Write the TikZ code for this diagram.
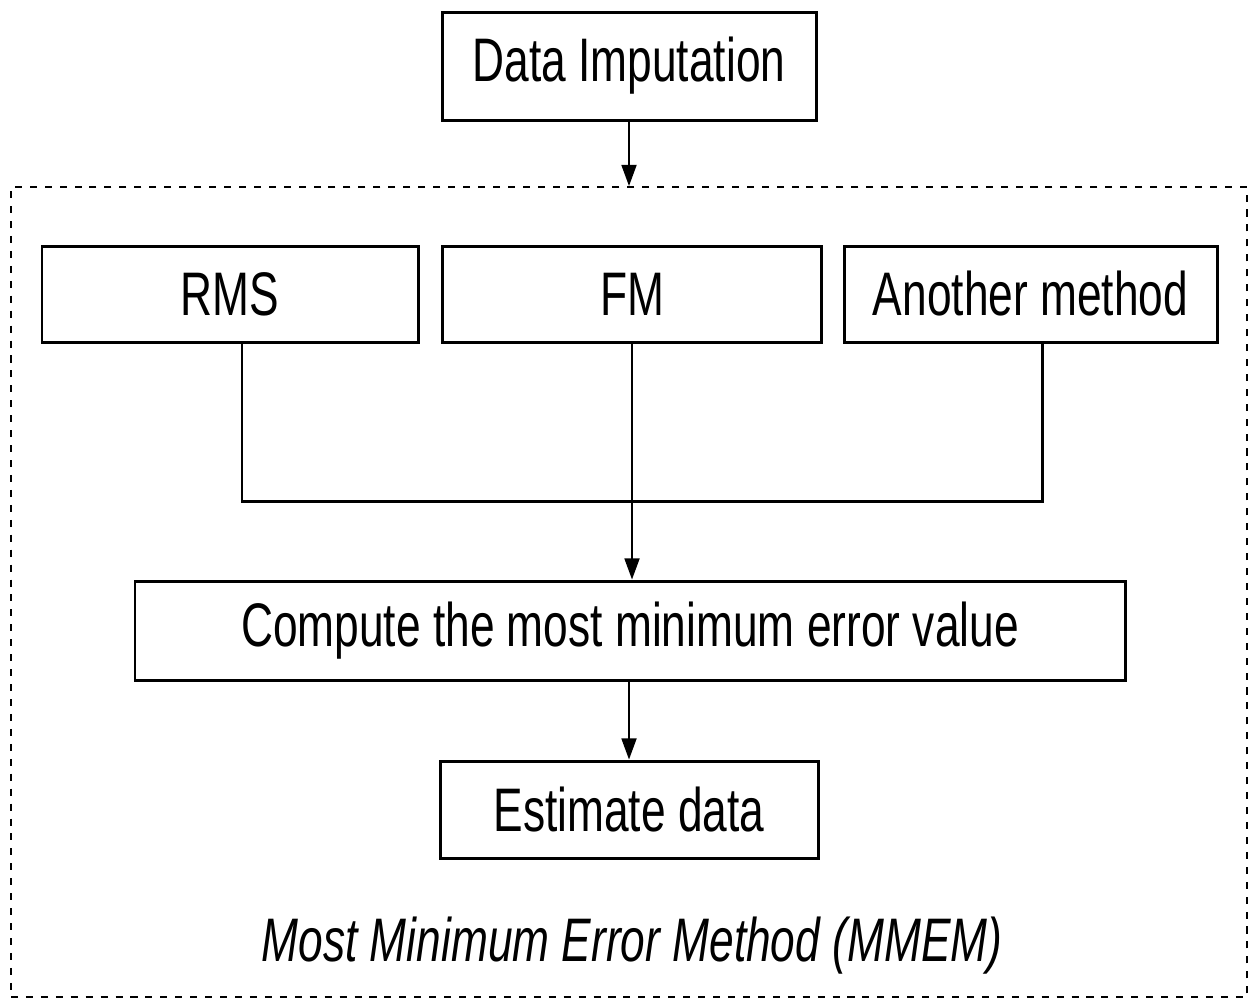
\documentclass[tikz,border=0pt]{standalone}
\usepackage{fontspec}
\setmainfont[FakeStretch=0.72]{Liberation Sans}
\usetikzlibrary{arrows.meta, positioning, calc}

\tikzset{
  stepbox/.style={draw, line width=1.7pt, minimum height=1.92cm, inner sep=0pt,
    font=\fontsize{35}{42}\selectfont},
  frame/.style={draw, line width=1.1pt, dash pattern=on 4pt off 4.5pt},
  arr/.style={line width=1.1pt, -{Triangle[width=8.5pt, length=12pt]}},
  link/.style={line width=1.7pt}
}

\begin{document}
\begin{tikzpicture}
  \useasboundingbox (0,0) rectangle (25.04,-19.96);

  % outer dashed frame
  \node[frame, minimum width=24.72cm, minimum height=16.2cm] (mmem) at (12.58,-11.84) {};

  % top box
  \node[stepbox, minimum width=7.48cm, minimum height=2.16cm] (imp) at (12.58,-1.32) {Data Imputation};

  % three methods
  \node[stepbox, minimum width=7.52cm] (rms) at (4.60,-5.88) {RMS};
  \node[stepbox, minimum width=7.58cm] (fm) at (12.64,-5.88) {FM};
  \node[stepbox, minimum width=7.46cm] (other) at (20.61,-5.88) {Another method};

  % compute and estimate
  \node[stepbox, minimum width=19.8cm, minimum height=1.98cm] (comp) at (12.6,-12.61) {Compute the most minimum error value};
  \node[stepbox, minimum width=7.56cm, minimum height=1.94cm] (est) at (12.58,-16.19) {Estimate data};

  % label
  \node[font=\fontsize{35}{42}\selectfont\itshape] (lbl) at (12.64,-18.92) {Most Minimum Error Method (MMEM)};

  % connectors
  \draw[arr] (imp.south) -- (imp.south |- mmem.north);
  \coordinate (join) at ($(fm.south)!0.67!(comp.north)$);
  \draw[link] ([xshift=0.24cm]rms.south) |- (join -| fm.south)
    -| ([xshift=0.24cm]other.south);
  \draw[arr] (fm.south) -- (comp.north -| fm.south);
  \draw[arr] (comp.south -| est.north) -- (est.north);
\end{tikzpicture}
\end{document}
